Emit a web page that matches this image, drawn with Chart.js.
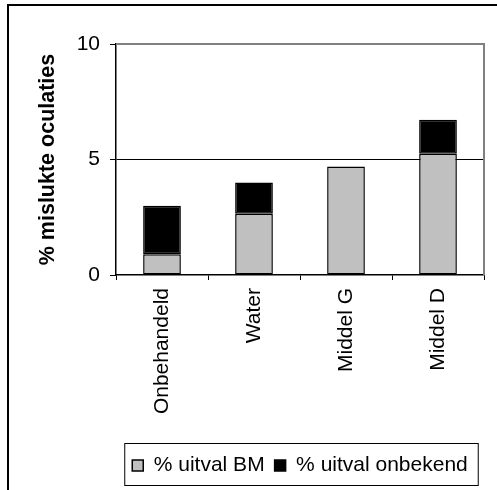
<!DOCTYPE html>
<html>
<head>
<meta charset="utf-8">
<script src="https://cdn.jsdelivr.net/npm/chart.js@4"></script>
<style>
  html, body { margin: 0; padding: 0; background: #fff; }
  #wrap { width: 497px; height: 490px; }
</style>
</head>
<body>
<div id="wrap"><canvas id="grafico"></canvas></div>
<script>
// data
const categorias = ['Onbehandeld', 'Water', 'Middel G', 'Middel D'];
const uitvalBM = [0.9, 2.65, 4.7, 5.25];        // % uitval BM
const uitvalOnbekend = [2.1, 1.35, 0, 1.47];    // % uitval onbekend
const yTicks = [0, 5, 10];

const fonte = 'Liberation Sans, Arial, sans-serif';

// frame round the whole chart, border of the plot area and legend box
const molduras = {
    id: 'molduras',
    beforeDraw(chart) {
        const ctx = chart.ctx;
        ctx.save();
        ctx.fillStyle = '#fff';
        ctx.fillRect(0, 0, chart.width, chart.height);
        ctx.strokeStyle = '#000';
        ctx.lineWidth = 2;
        ctx.beginPath();
        ctx.moveTo(8, chart.height);
        ctx.lineTo(8, 5);
        ctx.lineTo(chart.width, 5);
        ctx.stroke();
        ctx.restore();
    },
    afterDraw(chart) {
        const ctx = chart.ctx;
        const a = chart.chartArea;
        ctx.save();
        ctx.strokeStyle = '#808080';
        ctx.lineWidth = 2;
        ctx.beginPath();
        ctx.moveTo(a.left, a.top);
        ctx.lineTo(a.right, a.top);
        ctx.lineTo(a.right, a.bottom);
        ctx.stroke();

        const lg = chart.legend;
        if (lg && lg.legendHitBoxes.length) {
            const hb = lg.legendHitBoxes;
            const x0 = hb[0].left - 8;
            const x1 = hb[hb.length - 1].left + hb[hb.length - 1].width + 10;
            ctx.strokeStyle = '#000';
            ctx.lineWidth = 1;
            ctx.strokeRect(x0 + 0.5, lg.top - 2 + 0.5, x1 - x0, lg.height + 1);
        }
        ctx.restore();
    }
};

const chart = new Chart(document.getElementById('grafico'), {
    type: 'bar',
    data: {
        labels: categorias,
        datasets: [{
            label: '% uitval BM',
            data: uitvalBM,
            backgroundColor: '#C0C0C0',
            borderColor: '#000',
            borderWidth: 1.5,
            borderSkipped: false
        }, {
            label: '% uitval onbekend',
            data: uitvalOnbekend,
            backgroundColor: '#000',
            borderColor: '#000',
            borderWidth: 1.5,
            borderSkipped: false
        }]
    },
    options: {
        responsive: true,
        maintainAspectRatio: false,
        animation: false,
        layout: { padding: { top: 44, right: 13, bottom: 4, left: 0 } },
        datasets: { bar: { categoryPercentage: 1, barPercentage: 0.41 } },
        scales: {
            x: {
                stacked: true,
                afterFit: s => { s.height = 170; },
                border: { color: '#000', width: 1.5 },
                grid: {
                    offset: true,
                    color: 'rgba(0,0,0,0)',
                    tickColor: '#000',
                    tickLength: 5,
                    tickWidth: 1
                },
                ticks: {
                    minRotation: 90,
                    maxRotation: 90,
                    padding: 8,
                    color: '#000',
                    font: { family: fonte, size: 21 }
                }
            },
            y: {
                stacked: true,
                min: 0,
                max: 10,
                afterFit: s => { s.width = 116; },
                afterBuildTicks: s => { s.ticks = yTicks.map(v => ({ value: v })); },
                border: { color: '#000', width: 1.5 },
                grid: {
                    color: c => (c.tick && c.tick.value === 5 ? '#000' : 'rgba(0,0,0,0)'),
                    lineWidth: 1,
                    tickColor: '#000',
                    tickLength: 6
                },
                ticks: {
                    padding: 10,
                    color: '#000',
                    font: { family: fonte, size: 21 }
                },
                title: {
                    display: true,
                    text: '% mislukte oculaties',
                    color: '#000',
                    padding: { top: 35, bottom: 0 },
                    font: { family: fonte, size: 21.5, weight: 'bold' }
                }
            }
        },
        plugins: {
            legend: {
                position: 'bottom',
                fullSize: false,
                labels: {
                    boxWidth: 11,
                    boxHeight: 11,
                    padding: 10,
                    color: '#000',
                    font: { family: fonte, size: 21 }
                }
            },
            tooltip: { enabled: false }
        }
    },
    plugins: [molduras]
});
</script>
</body>
</html>
